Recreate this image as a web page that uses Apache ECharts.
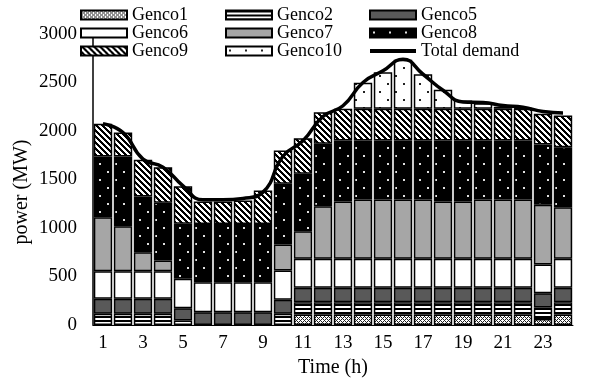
<!DOCTYPE html>
<html lang="en">

<head>
    <meta charset="UTF-8">
    <title>Genco dispatch</title>
    <script src="https://cdn.jsdelivr.net/npm/echarts@6/dist/echarts.min.js"></script>
    <style>
        body {
            margin: 0;
        }

        #root {
            width: 613px;
            height: 379px;
        }
    </style>
</head>

<body>

    <div id="root"></div>
    <script>

        var hours = ['1', '2', '3', '4', '5', '6', '7', '8', '9', '10', '11', '12',
            '13', '14', '15', '16', '17', '18', '19', '20', '21', '22', '23', '24'];

        // MW per hour
        var genco1 = [0, 0, 0, 0, 0, 0, 0, 0, 0, 0, 108, 108, 108, 108, 108, 108, 108, 108, 108, 108, 108, 108, 62, 108];
        var genco2 = [115, 115, 115, 115, 46, 0, 0, 0, 0, 115, 127, 127, 127, 127, 127, 127, 127, 127, 127, 127, 127, 127, 118, 127];
        var genco5 = [155, 155, 155, 155, 127, 132, 132, 132, 132, 145, 148, 148, 148, 148, 148, 148, 148, 148, 148, 148, 148, 148, 148, 148];
        var genco6 = [285, 285, 285, 285, 303, 309, 309, 309, 309, 302, 299, 299, 299, 299, 299, 299, 299, 299, 299, 299, 299, 299, 296, 299];
        var genco7 = [556, 464, 196, 110, 0, 0, 0, 0, 0, 268, 285, 543, 591, 612, 612, 612, 612, 591, 591, 612, 612, 612, 615, 533];
        var genco8 = [626, 718, 574, 595, 567, 599, 599, 599, 599, 626, 593, 643, 629, 608, 608, 608, 608, 629, 629, 608, 608, 608, 622, 618];
        var genco9 = [338, 248, 378, 367, 388, 233, 233, 243, 347, 343, 366, 326, 327, 327, 327, 327, 327, 327, 327, 327, 327, 327, 316, 327];
        var genco10 = [0, 0, 0, 0, 0, 0, 0, 0, 0, 0, 0, 0, 0, 268, 377, 505, 356, 196, 85, 56, 21, 6, 0, 0];
        var demand = [2075, 1985, 1710, 1627, 1435, 1290, 1290, 1305, 1370, 1740, 1900, 2150, 2260, 2500, 2620, 2740, 2585, 2420, 2300, 2295, 2262, 2245, 2200, 2185];

        // small repeating canvas fills to imitate the print patterns
        function makePattern(w, h, bg, fg, test, dot) {
            var c = document.createElement('canvas');
            c.width = w;
            c.height = h;
            var ctx = c.getContext('2d');
            ctx.fillStyle = bg;
            ctx.fillRect(0, 0, w, h);
            ctx.fillStyle = fg;
            for (var y = 0; y < h; y++) {
                for (var x = 0; x < w; x++) {
                    if (test(x, y)) ctx.fillRect(x, y, dot || 1, dot || 1);
                }
            }
            return { image: c, repeat: 'repeat' };
        }

        var fills = {
            genco1: makePattern(4, 4, '#fff', '#222', function (x, y) { return (x + y) % 4 === 0 || (x - y + 4) % 4 === 0; }),
            genco2: makePattern(4, 4, '#fff', '#000', function (x, y) { return y % 4 < 2; }),
            genco5: '#595959',
            genco6: '#fff',
            genco7: '#a6a6a6',
            genco8: makePattern(16, 16, '#000', '#e0e0e0', function (x, y) { return (x === 3 && y === 3) || (x === 11 && y === 11); }, 2),
            genco9: makePattern(6, 6, '#fff', '#000', function (x, y) { return (x - y + 12) % 6 < 3; }),
            genco10: makePattern(16, 16, '#fff', '#222', function (x, y) { return (x === 3 && y === 3) || (x === 11 && y === 11); }, 2)
        };

        function noZero(arr) {
            return arr.map(function (v) { return v === 0 ? '-' : v; });
        }

        function barSeries(name, data, fill) {
            return {
                name: name,
                type: 'bar',
                stack: 'gen',
                barCategoryGap: '8%',
                data: noZero(data),
                itemStyle: {
                    color: fill,
                    borderColor: '#000',
                    borderWidth: 1.5
                }
            };
        }

        var font = 'Liberation Serif';
        var legendBase = {
            orient: 'vertical',
            top: 6,
            padding: 0,
            itemWidth: 46,
            itemHeight: 9,
            itemGap: 0,
            textStyle: { fontFamily: font, fontSize: 18, color: '#000', lineHeight: 16 }
        };

        var mychart = echarts.init(document.getElementById('root'));

        mychart.setOption({
            animation: false,
            backgroundColor: '#fff',
            grid: { left: 93, right: 40, top: 34, bottom: 54, outerBoundsMode: 'none' },
            legend: [
                Object.assign({}, legendBase, { left: 80, data: [{ name: 'Genco1', icon: 'rect' }, { name: 'Genco6', icon: 'rect' }, { name: 'Genco9', icon: 'rect' }] }),
                Object.assign({}, legendBase, { left: 225, data: [{ name: 'Genco2', icon: 'rect' }, { name: 'Genco7', icon: 'rect' }, { name: 'Genco10', icon: 'rect' }] }),
                Object.assign({}, legendBase, {
                    left: 368, data: [{ name: 'Genco5', icon: 'rect' }, { name: 'Genco8', icon: 'rect' },
                    { name: 'Total demand', itemStyle: { opacity: 0 }, lineStyle: { width: 4, color: '#000' } }]
                })
            ],
            graphic: [{
                type: 'text',
                x: 22,
                y: 192,
                rotation: Math.PI / 2,
                style: {
                    text: 'power (MW)',
                    font: '20px "Liberation Serif"',
                    fill: '#000',
                    align: 'center',
                    verticalAlign: 'middle'
                }
            }],
            xAxis: {
                type: 'category',
                data: hours,
                name: 'Time (h)',
                nameLocation: 'middle',
                nameGap: 31,
                nameTextStyle: { fontFamily: font, fontSize: 20, color: '#000' },
                axisLine: { lineStyle: { color: '#000', width: 1 } },
                axisTick: { length: 3, lineStyle: { color: '#999' } },
                axisLabel: { interval: 1, margin: 9, fontFamily: font, fontSize: 19, color: '#000' }
            },
            yAxis: {
                type: 'value',
                min: 0,
                max: 3000,
                interval: 500,
                axisLine: { show: true, lineStyle: { color: '#000', width: 1.5 } },
                axisTick: { show: false },
                splitLine: { show: false },
                axisLabel: {
                    margin: 16,
                    fontFamily: font,
                    fontSize: 19,
                    color: '#000',
                    formatter: function (v) { return String(v); }
                }
            },
            series: [
                barSeries('Genco1', genco1, fills.genco1),
                barSeries('Genco2', genco2, fills.genco2),
                barSeries('Genco5', genco5, fills.genco5),
                barSeries('Genco6', genco6, fills.genco6),
                barSeries('Genco7', genco7, fills.genco7),
                barSeries('Genco8', genco8, fills.genco8),
                barSeries('Genco9', genco9, fills.genco9),
                barSeries('Genco10', genco10, fills.genco10),
                {
                    name: 'Total demand',
                    type: 'line',
                    data: demand,
                    smooth: true,
                    symbol: 'none',
                    z: 5,
                    itemStyle: { color: '#000' },
                    lineStyle: { color: '#000', width: 3.5 }
                }
            ]
        });

    </script>

</body>

</html>
